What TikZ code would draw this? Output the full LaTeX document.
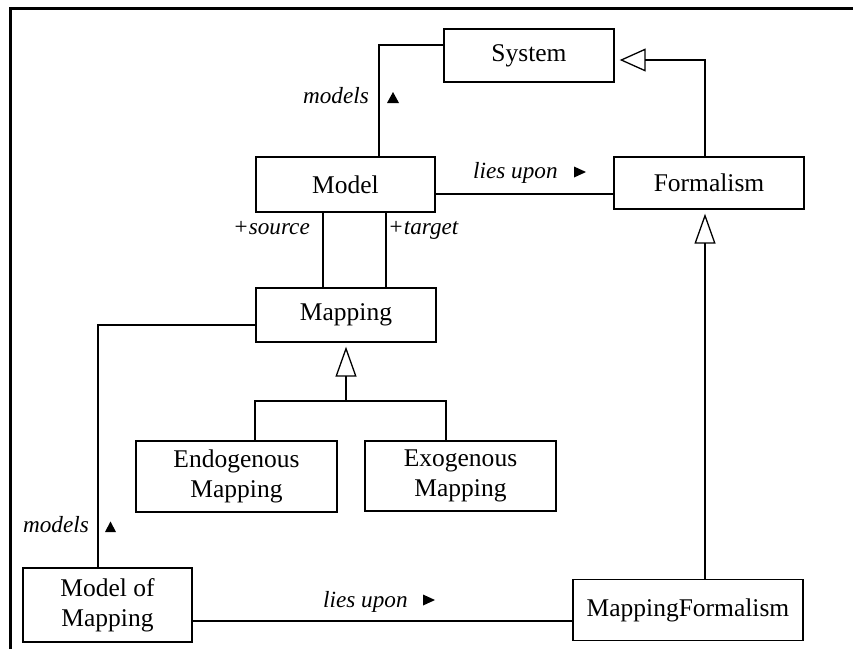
\documentclass[tikz,border=0pt]{standalone}
\usepackage{fontspec}
\setmainfont{Liberation Serif}
\usetikzlibrary{arrows.meta}
\begin{document}
\begin{tikzpicture}[x=1pt,y=-1pt,
  box/.style={draw, line width=1.4pt, inner sep=0pt, font=\fontsize{25.5}{30}\selectfont, align=center},
  lab/.style={inner sep=0pt, font=\fontsize{23.2}{28}\selectfont\itshape},
  conn/.style={line width=1.3pt},
  gen/.style={line width=1.3pt, -{Triangle[open, length=30pt, width=21pt, line width=1.3pt]}, shorten >=4pt},
  genh/.style={line width=1.3pt, -{Triangle[open, length=26pt, width=23pt, line width=1.3pt]}, shorten >=5pt},
  framel/.style={line width=3pt}]
\useasboundingbox (0,0) rectangle (853,649);
\fill[white] (0,0) rectangle (853,649);
\draw[framel] (10,649) -- (10,8) -- (853,8);

% classes
\node[box, minimum width=170pt, minimum height=53pt] (system) at (529,55.5) {System};
\node[box, minimum width=179pt, minimum height=55pt] (model) at (345.5,184.5) {Model};
\node[box, minimum width=190pt, minimum height=52pt] (formalism) at (709,183) {Formalism};
\node[box, minimum width=180pt, minimum height=54pt] (mapping) at (346,315) {Mapping};
\node[box, minimum width=201pt, minimum height=71pt] (endo) at (236.5,476.5) {Endogenous\\Mapping};
\node[box, minimum width=191pt, minimum height=70pt] (exo) at (460.5,476) {Exogenous\\Mapping};
\node[box, minimum width=169pt, minimum height=74pt] (mom) at (107.5,605) {Model of\\Mapping};
\node[box, minimum width=230pt, minimum height=61pt] (mf) at (688,610) {MappingFormalism};

% helper coordinates
\coordinate (c1) at (379,45);
\coordinate (c2) at (705,60);
\coordinate (c3) at (435,194);
\coordinate (src) at (323,0);
\coordinate (tgt) at (386,0);
\coordinate (c4) at (98,325);
\coordinate (j) at (346,401);
\coordinate (e1) at (255,0);
\coordinate (e2) at (446,0);
\coordinate (c5) at (192,621);
\coordinate (c6) at (705,0);

% Model -- System (models)
\draw[conn] (model.north -| c1) -- (c1) -- (c1 -| system.west);
\node[lab, anchor=base east] (models1) at (369,103) {models};
\fill (387,103) -- (399,103) -- (393,92) -- cycle;

% Formalism generalizes to System
\draw[genh] (formalism.north -| c2) -- (c2) -- (c2 -| system.east);

% Model -- Formalism (lies upon)
\draw[conn] (c3) -- (c3 -| formalism.west);
\node[lab, anchor=base west] (lies1) at (473,178) {lies upon};
\fill (574,166.5) -- (574,177.5) -- (586,172) -- cycle;

% source / target
\draw[conn] (model.south -| src) -- (mapping.north -| src);
\draw[conn] (model.south -| tgt) -- (mapping.north -| tgt);
\node[lab, anchor=base east] (source) at (310,234) {+source};
\node[lab, anchor=base west] (target) at (388,234) {+target};

% Mapping generalization tree
\draw[gen] (j) -- (mapping.south);
\draw[conn] (endo.north -| e1) |- (j) -| (exo.north -| e2);

% Model of Mapping -- Mapping (models)
\draw[conn] (mom.north -| c4) -- (c4) -- (c4 -| mapping.west);
\node[lab, anchor=base east] (models2) at (89,532) {models};
\fill (105,532) -- (116,532) -- (110.5,521.5) -- cycle;

% Model of Mapping -- MappingFormalism (lies upon)
\draw[conn] (c5) -- (c5 -| mf.west);
\node[lab, anchor=base west] (lies2) at (323,607) {lies upon};
\fill (423,594.5) -- (423,605.5) -- (435,600) -- cycle;

% MappingFormalism generalizes to Formalism
\draw[gen] (mf.north -| c6) -- (formalism.south -| c6);
\end{tikzpicture}
\end{document}
